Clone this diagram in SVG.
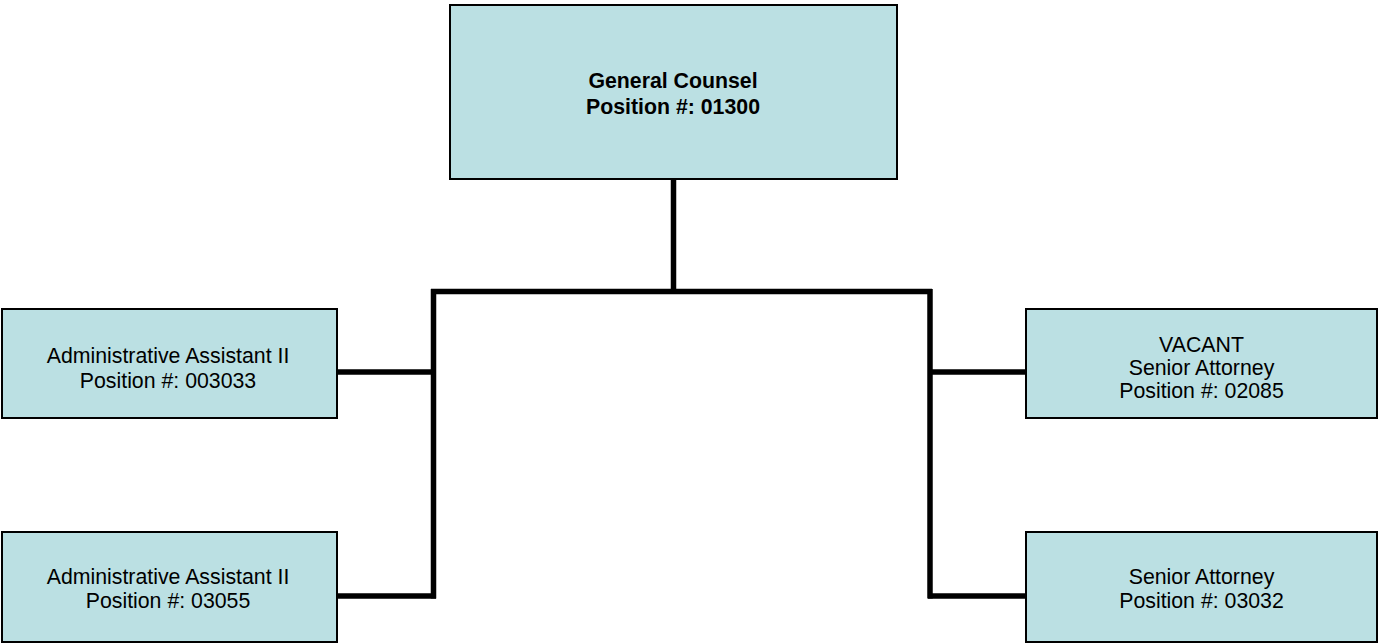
<svg xmlns="http://www.w3.org/2000/svg" width="1379" height="644" viewBox="0 0 1379 644">
<style>
.box{fill:#BBE0E3;stroke:#000;stroke-width:2}
.t{font-family:"Liberation Sans",Arial,sans-serif;font-size:21.3px;fill:#000;text-anchor:middle}
.b{font-weight:bold}
.c{stroke:#000;stroke-width:5.5;fill:none}
</style>
<rect width="1379" height="644" fill="#fff"/>
<g id="connectors">
<line class="c" x1="673.5" y1="180" x2="673.5" y2="291"/>
<line class="c" x1="431" y1="291.5" x2="932" y2="291.5"/>
<line class="c" x1="433.5" y1="289" x2="433.5" y2="598.5"/>
<line class="c" x1="930" y1="289" x2="930" y2="598.5"/>
<line class="c" x1="338" y1="372" x2="433" y2="372"/>
<line class="c" x1="338" y1="596" x2="436" y2="596"/>
<line class="c" x1="930" y1="372" x2="1026" y2="372"/>
<line class="c" x1="928" y1="596" x2="1026" y2="596"/>
</g>
<g id="general-counsel">
<rect class="box" x="450" y="5" width="447" height="174"/>
<text class="t b" x="673" y="88">General Counsel</text>
<text class="t b" x="673" y="114">Position #: 01300</text>
</g>
<g id="admin-assistant-1">
<rect class="box" x="2" y="309" width="335" height="109"/>
<text class="t" x="168" y="363">Administrative Assistant II</text>
<text class="t" x="168" y="388">Position #: 003033</text>
</g>
<g id="admin-assistant-2">
<rect class="box" x="2" y="532" width="335" height="110"/>
<text class="t" x="168" y="584">Administrative Assistant II</text>
<text class="t" x="168" y="608">Position #: 03055</text>
</g>
<g id="senior-attorney-vacant">
<rect class="box" x="1026" y="309" width="351" height="109"/>
<text class="t" x="1201.5" y="352">VACANT</text>
<text class="t" x="1201.5" y="375">Senior Attorney</text>
<text class="t" x="1201.5" y="398">Position #: 02085</text>
</g>
<g id="senior-attorney">
<rect class="box" x="1026" y="532" width="351" height="110"/>
<text class="t" x="1201.5" y="584">Senior Attorney</text>
<text class="t" x="1201.5" y="608">Position #: 03032</text>
</g>
</svg>
